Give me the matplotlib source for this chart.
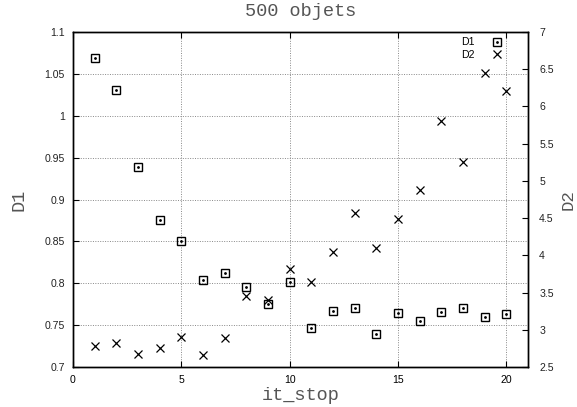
import matplotlib
matplotlib.use("Agg")
import matplotlib.pyplot as plt
from matplotlib.lines import Line2D

it_stop = list(range(1, 21))
d1 = [1.069, 1.031, 0.939, 0.875, 0.850, 0.804, 0.812, 0.795, 0.775, 0.801,
      0.747, 0.767, 0.770, 0.740, 0.765, 0.755, 0.766, 0.770, 0.760, 0.763]
d2 = [2.786, 2.827, 2.671, 2.760, 2.899, 2.657, 2.894, 3.458, 3.396, 3.816,
      3.646, 4.040, 4.565, 4.100, 4.488, 4.878, 5.810, 5.260, 6.455, 6.210]
xticks = [0, 5, 10, 15, 20]
y1ticks = [0.7, 0.75, 0.8, 0.85, 0.9, 0.95, 1.0, 1.05, 1.1]
y1labels = ["0.7", "0.75", "0.8", "0.85", "0.9", "0.95", "1", "1.05", "1.1"]
y2ticks = [2.5, 3, 3.5, 4, 4.5, 5, 5.5, 6, 6.5, 7]
y2labels = ["2.5", "3", "3.5", "4", "4.5", "5", "5.5", "6", "6.5", "7"]

W, H = 577, 407
fig = plt.figure(figsize=(W / 100, H / 100), dpi=100)
ax = fig.add_axes([73 / W, 1 - 367 / H, (528 - 73) / W, (367 - 32) / H])
ax2 = ax.twinx()

tickfont = dict(family="Liberation Sans", size=7.6, color="#222222")
mono = "Liberation Mono"
labcol = "#555555"

ax.set_xlim(0, 21)
ax.set_ylim(0.7, 1.1)
ax2.set_ylim(2.5, 7)

ax.set_xticks(xticks)
ax.set_xticklabels([str(t) for t in xticks], **tickfont)
ax.set_yticks(y1ticks)
ax.set_yticklabels(y1labels, **tickfont)
ax2.set_yticks(y2ticks)
ax2.set_yticklabels(y2labels, **tickfont)

ax.tick_params(axis="x", direction="in", top=True, length=4, width=0.8, pad=6, colors="black")
ax.tick_params(axis="y", direction="in", left=True, right=False, length=4, width=0.8, pad=6)
ax2.tick_params(axis="y", direction="in", right=True, length=4, width=0.8, pad=8)

for a in (ax, ax2):
    for s in a.spines.values():
        s.set_linewidth(1.0)
        s.set_color("black")

ax.grid(True, linestyle=(0, (1, 1.5)), color="#888888", linewidth=0.7)
ax.set_axisbelow(True)

# D1 squares with center dots
ax.plot(it_stop, d1, linestyle="none", marker="s", markersize=5.5,
        markerfacecolor="none", markeredgecolor="black", markeredgewidth=1.0, zorder=3)
ax.plot(it_stop, d1, linestyle="none", marker="o", markersize=1.0,
        markerfacecolor="black", markeredgecolor="black", zorder=3)
# D2 crosses
ax2.plot(it_stop, d2, linestyle="none", marker="x", markersize=5.5,
         markeredgecolor="black", markeredgewidth=0.9, zorder=3)

# legend
h1 = (Line2D([], [], linestyle="none", marker="s", markersize=5.5, markerfacecolor="none",
             markeredgecolor="black", markeredgewidth=1.0),
      Line2D([], [], linestyle="none", marker="o", markersize=1.0, color="black"))
h2 = Line2D([], [], linestyle="none", marker="x", markersize=5.5, markeredgecolor="black",
            markeredgewidth=0.9)
leg = ax2.legend([h1, h2], ["D1", "D2"], loc="upper right", markerfirst=False,
                 prop=dict(family="Liberation Sans", size=7.6), frameon=True,
                 edgecolor="none", facecolor="white", framealpha=1.0, fancybox=False,
                 borderpad=0.3, labelspacing=0.25, handlelength=1.0, handletextpad=1.6,
                 borderaxespad=0.2, bbox_to_anchor=(0.955, 1.0))
leg.set_zorder(2)

fig.text(301 / W, 1 - 12 / H, "500 objets", ha="center", va="center",
         family=mono, fontsize=13.4, color=labcol)
fig.text(301 / W, 1 - 395 / H, "it_stop", ha="center", va="center",
         family=mono, fontsize=13.4, color=labcol)
fig.text(19 / W, 1 - 200 / H, "D1", ha="center", va="center", rotation=90,
         family=mono, fontsize=13.4, color=labcol)
fig.text(576 / W, 1 - 200 / H, "D2", ha="right", va="center", rotation=90,
         family=mono, fontsize=12.5, color=labcol)

fig.savefig("out.png", dpi=100)
